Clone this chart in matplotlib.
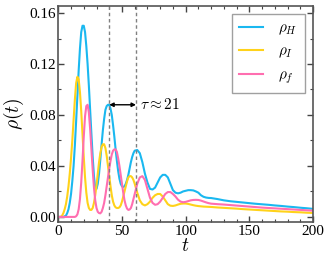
import numpy as np
import matplotlib
matplotlib.use("Agg")
import matplotlib.pyplot as plt
from matplotlib.ticker import MultipleLocator

plt.rcParams["font.family"] = ["Liberation Serif", "DejaVu Serif"]
plt.rcParams["mathtext.fontset"] = "cm"

# time grid
t = ([i for i in range(0, 61)]
     + [i for i in range(62, 121, 2)]
     + [i for i in range(125, 201, 5)])

# rho_H (blue)
rho_H = [
    0, 0, 0, 0, 0, 0.0005, 0.001, 0.003, 0.006, 0.011,
    0.018, 0.028, 0.040, 0.056, 0.075, 0.095, 0.115, 0.132, 0.145, 0.150,
    0.150, 0.145, 0.134, 0.120, 0.103, 0.084, 0.065, 0.047, 0.032, 0.023,
    0.022, 0.026, 0.034, 0.045, 0.057, 0.068, 0.077, 0.084, 0.087, 0.088,
    0.088, 0.085, 0.080, 0.072, 0.063, 0.053, 0.044, 0.036, 0.030, 0.026,
    0.024, 0.0235, 0.024, 0.026, 0.029, 0.033, 0.038, 0.043, 0.047, 0.050,
    0.052,
    # 62 .. 120 step 2
    0.0525, 0.050, 0.043, 0.034, 0.027, 0.022, 0.0215, 0.023, 0.027, 0.031,
    0.033, 0.033, 0.031, 0.026, 0.021, 0.019, 0.0185, 0.019, 0.020, 0.0205,
    0.021, 0.021, 0.0208, 0.020, 0.019, 0.017, 0.0158, 0.0152, 0.0149, 0.0148,
    # 125 .. 200 step 5
    0.0140, 0.0130, 0.0123, 0.0118, 0.0113, 0.0108, 0.0103, 0.0099, 0.0095,
    0.0090, 0.0086, 0.0081, 0.0077, 0.0072, 0.0068, 0.0063,
]

# rho_I (yellow)
rho_I = [
    0, 0, 0, 0.001, 0.003, 0.006, 0.010, 0.016, 0.024, 0.034,
    0.046, 0.060, 0.076, 0.092, 0.105, 0.110, 0.108, 0.098, 0.083, 0.065,
    0.047, 0.031, 0.019, 0.011, 0.007, 0.0055, 0.0055, 0.007, 0.011, 0.017,
    0.025, 0.034, 0.043, 0.050, 0.055, 0.057, 0.057, 0.054, 0.048, 0.040,
    0.032, 0.024, 0.017, 0.012, 0.009, 0.0075, 0.007, 0.007, 0.0075, 0.009,
    0.012, 0.016, 0.020, 0.024, 0.028, 0.031, 0.032, 0.032, 0.031, 0.029,
    0.026,
    # 62 .. 120 step 2
    0.019, 0.013, 0.010, 0.009, 0.010, 0.012, 0.015, 0.017, 0.018, 0.018,
    0.016, 0.013, 0.010, 0.0088, 0.0086, 0.009, 0.0097, 0.0103, 0.0105, 0.0105,
    0.0102, 0.0097, 0.0092, 0.0088, 0.0085, 0.0083, 0.0081, 0.0080, 0.0079, 0.0078,
    # 125 .. 200 step 5
    0.0074, 0.0071, 0.0068, 0.0065, 0.0061, 0.0058, 0.0055, 0.0052, 0.0049,
    0.0046, 0.0043, 0.0041, 0.0038, 0.0036, 0.0033, 0.0031,
]

# rho_f (pink)
rho_f = [
    0, 0, 0, 0, 0, 0, 0, 0, 0, 0,
    0, 0, 0, 0, 0.0005, 0.002, 0.006, 0.014, 0.027, 0.044,
    0.063, 0.079, 0.087, 0.088, 0.082, 0.069, 0.053, 0.037, 0.023, 0.013,
    0.007, 0.004, 0.003, 0.0028, 0.004, 0.007, 0.011, 0.017, 0.024, 0.031,
    0.038, 0.044, 0.049, 0.052, 0.053, 0.053, 0.051, 0.046, 0.040, 0.033,
    0.026, 0.019, 0.013, 0.009, 0.0065, 0.0055, 0.0058, 0.007, 0.010, 0.014,
    0.018,
    # 62 .. 120 step 2
    0.026, 0.031, 0.032, 0.029, 0.022, 0.015, 0.011, 0.0095, 0.010, 0.012,
    0.015, 0.018, 0.0195, 0.0195, 0.018, 0.016, 0.0135, 0.012, 0.0115, 0.0118,
    0.0124, 0.013, 0.0133, 0.0134, 0.0133, 0.0128, 0.0121, 0.0114, 0.0108, 0.0104,
    # 125 .. 200 step 5
    0.0100, 0.0097, 0.0093, 0.0089, 0.0085, 0.0081, 0.0077, 0.0073, 0.0070,
    0.0067, 0.0064, 0.0061, 0.0058, 0.0055, 0.0052, 0.0049,
]

labels = [r"$\rho_H$", r"$\rho_I$", r"$\rho_f$"]
colors = ["#1ab8f0", "#ffd21a", "#ff6eb0"]
tau_marks = [40, 61]
tau_level = 0.088

fig = plt.figure(figsize=(3.32, 2.66), dpi=100)
ax = fig.add_axes([0.1756, 0.1654, 0.9428 - 0.1756, 0.9774 - 0.1654])

for series, lab, col in zip([rho_H, rho_I, rho_f], labels, colors):
    ax.plot(t, series, color=col, lw=1.5, label=lab)

for tm in tau_marks:
    ax.axvline(tm, color="gray", ls=(0, (2.5, 2)), lw=1.0)

ax.annotate("", xy=(tau_marks[0], tau_level), xytext=(tau_marks[1], tau_level),
            arrowprops=dict(arrowstyle="<|-|>", color="black", lw=1.0,
                            mutation_scale=6, shrinkA=0, shrinkB=0))
ax.text(tau_marks[1] + 3, tau_level, r"$\tau \approx 21$", fontsize=11,
        va="center", ha="left")

ax.set_xlim(0, 200)
ax.set_ylim(-0.004, 0.1655)
ax.set_xticks([0, 50, 100, 150, 200])
ax.set_yticks([0.00, 0.04, 0.08, 0.12, 0.16])
ax.set_yticklabels(["0.00", "0.04", "0.08", "0.12", "0.16"])
ax.xaxis.set_minor_locator(MultipleLocator(10))
ax.yaxis.set_minor_locator(MultipleLocator(0.02))
ax.tick_params(which="both", direction="in", top=True, right=True,
               labelsize=11, color="#444444", pad=2)
ax.tick_params(which="major", length=4, width=1)
ax.tick_params(which="minor", length=2.5, width=0.8)
for sp in ax.spines.values():
    sp.set_color("#555555")
    sp.set_linewidth(1.2)

ax.set_xlabel(r"$t$", fontsize=14, labelpad=0)
ax.set_ylabel(r"$\rho(t)$", fontsize=14, labelpad=2)

leg = ax.legend(loc="upper right", fontsize=11, frameon=True, fancybox=False,
                edgecolor="#888888", handlelength=1.6, labelspacing=0.55,
                borderaxespad=0.55, handletextpad=1.0, borderpad=0.45)
leg.get_frame().set_linewidth(1.0)

fig.savefig("out.png", dpi=100)
plt.close(fig)
